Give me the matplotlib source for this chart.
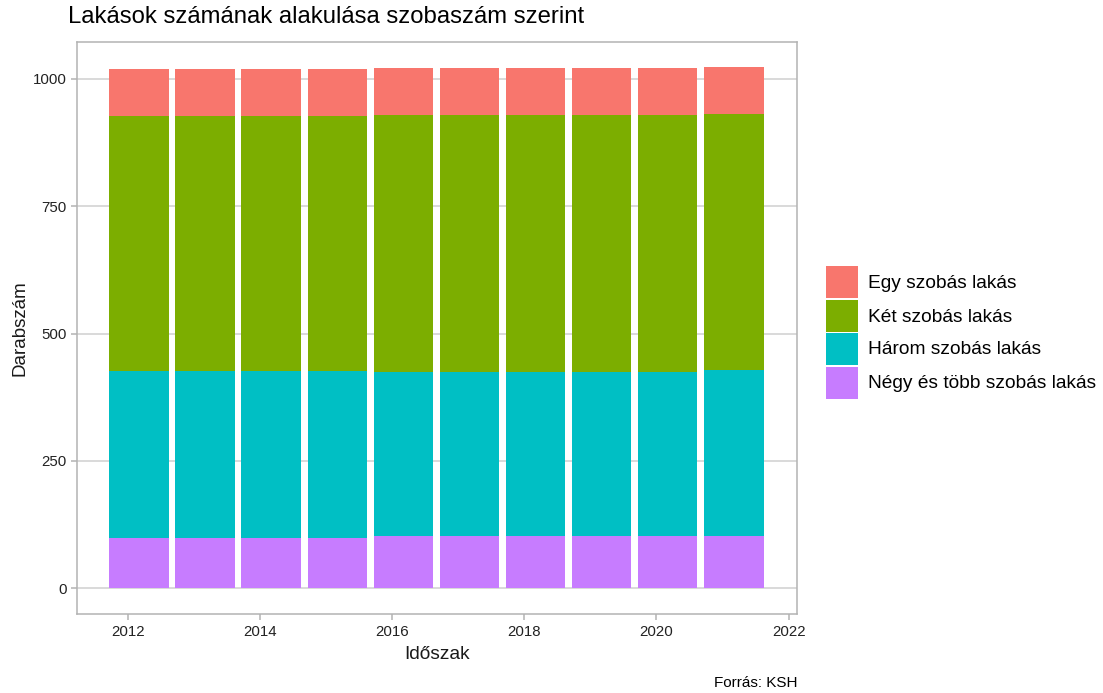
import matplotlib
matplotlib.use("Agg")
import matplotlib.pyplot as plt
from matplotlib.patches import Rectangle
import numpy as np

plt.rcParams['font.family'] = ['Liberation Sans', 'DejaVu Sans']

years = [2012, 2013, 2014, 2015, 2016, 2017, 2018, 2019, 2020, 2021]
categories = ["Egy szobás lakás", "Két szobás lakás", "Három szobás lakás", "Négy és több szobás lakás"]
egy = [92, 92, 92, 92, 92, 92, 92, 92, 92, 92]
ket = [501, 501, 501, 501, 505, 505, 505, 505, 505, 502]
harom = [327, 327, 327, 327, 323, 323, 323, 323, 323, 327]
negy = [99, 99, 99, 99, 102, 102, 102, 102, 102, 102]
colors = ["#F8766D", "#7CAE00", "#00BFC4", "#C77CFF"]
x_ticks = [2012, 2014, 2016, 2018, 2020, 2022]
y_ticks = [0, 250, 500, 750, 1000]

fig = plt.figure(figsize=(11.03, 6.93), dpi=100)
ax = fig.add_axes([0.0701, 0.1136, 0.6527, 0.8262])

x = np.array(years) + 0.17
series = [negy, harom, ket, egy]
cols = [colors[3], colors[2], colors[1], colors[0]]
bottom = np.zeros(len(years))
for vals, c in zip(series, cols):
    ax.bar(x, vals, width=0.9, bottom=bottom, color=c, linewidth=0, zorder=2)
    bottom += np.array(vals)

ax.set_xlim(2011.237, 2022.13)
ax.set_ylim(-51, 1073)
ax.set_xticks(x_ticks)
ax.set_xticklabels([str(t) for t in x_ticks])
ax.set_yticks(y_ticks)
ax.set_yticklabels([str(t) for t in y_ticks])
ax.yaxis.grid(True, color="#cfcfcf", linewidth=1.1, zorder=0)
ax.xaxis.grid(False)
ax.set_axisbelow(True)
for s in ax.spines.values():
    s.set_color("#b3b3b3")
    s.set_linewidth(1.1)
ax.tick_params(axis='both', colors="#b3b3b3", labelcolor="#222222", labelsize=10.8, length=4, width=1.1)

ax.set_xlabel("Időszak", fontsize=13.8, color="#1a1a1a", labelpad=5)
ax.set_ylabel("Darabszám", fontsize=13.5, color="#1a1a1a", labelpad=3)

fig.text(68/1103, 1 - 17/693, "Lakások számának alakulása szobaszám szerint",
         fontsize=17.2, color="black", ha="left", va="center")
fig.text(797/1103, 1 - 683/693, "Forrás: KSH", fontsize=11, color="black",
         ha="right", va="center")

# legend (manual)
W, H = 1103, 693
key_w, key_h = 32, 32
tops = [266, 300, 333, 367]
for cat, c, t in zip(categories, colors, tops):
    fig.add_artist(Rectangle((826 / W, 1 - (t + key_h) / H), key_w / W, key_h / H,
                             transform=fig.transFigure, facecolor=c, edgecolor="none"))
    fig.text(868 / W, 1 - (t + key_h / 2 + 1) / H, cat, fontsize=13.8, color="black",
             ha="left", va="center")

fig.savefig("out.png", dpi=100)
